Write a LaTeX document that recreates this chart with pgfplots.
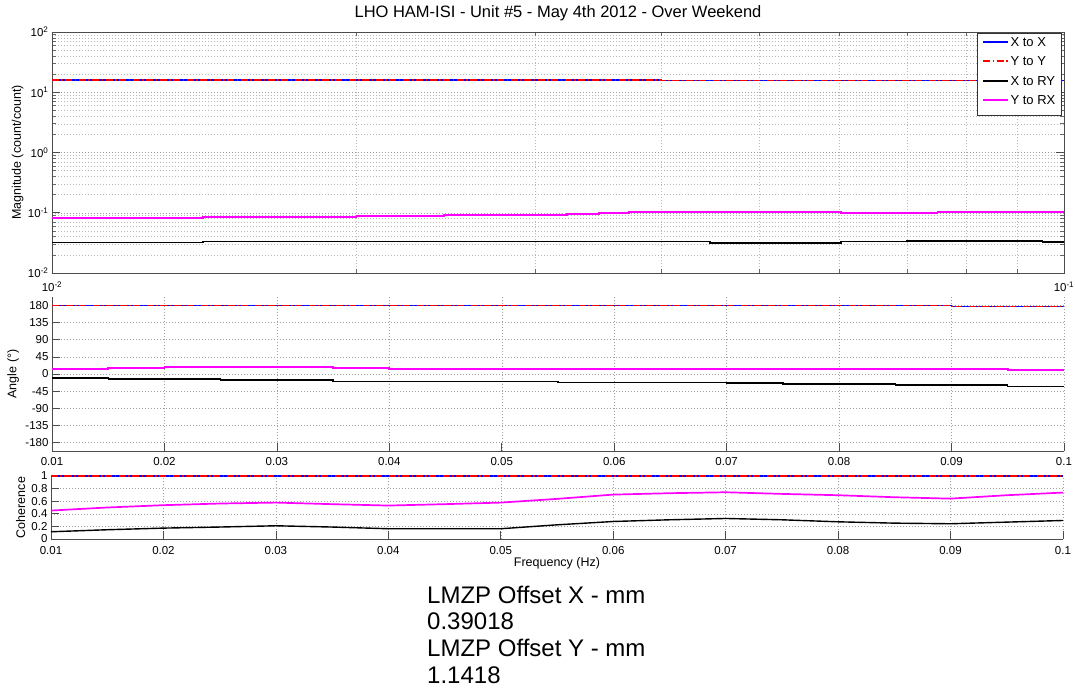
\documentclass[border=0pt]{standalone}
\usepackage{fontspec}
\setmainfont{Liberation Sans}
\usepackage{pgfplots}
\usepackage{pgfplotstable}
\pgfplotsset{compat=1.18}

\definecolor{mblue}{RGB}{0,0,255}
\definecolor{mred}{RGB}{255,0,0}
\definecolor{mmag}{RGB}{255,0,255}

% ---------- data ----------
% magnitude (log f)
\pgfplotstableread{
f v
0.01 16.0
0.04 15.7
0.1 15.7
}\magXX
\pgfplotstableread{
f v
0.01 16.0
0.04 15.7
0.1 15.7
}\magYY
\pgfplotstableread{
f v
0.01 0.0323
0.0141 0.0331
0.0447 0.0315
0.0602 0.0331
0.0700 0.0340
0.0952 0.0327
0.1 0.0327
}\magXRY
\pgfplotstableread{
f v
0.01 0.0820
0.0141 0.0850
0.02 0.0880
0.0244 0.0906
0.030 0.0929
0.0323 0.0953
0.0347 0.0979
0.0372 0.1017
0.040 0.1040
0.0546 0.1017
0.0602 0.0995
0.075 0.1017
0.0952 0.1040
0.1 0.1040
}\magYRX
% phase
\pgfplotstableread{
f v
0.01 180
0.09 176.5
0.1 176.5
}\phXX
\pgfplotstableread{
f v
0.01 180
0.09 176.5
0.1 176.5
}\phYY
\pgfplotstableread{
f v
0.01 -10.8
0.015 -12.6
0.025 -16.0
0.035 -19.6
0.055 -22.0
0.070 -23.3
0.075 -25.7
0.085 -29.3
0.095 -32.8
0.1 -32.8
}\phXRY
\pgfplotstableread{
f v
0.01 13.7
0.015 16.3
0.02 18.0
0.035 15.5
0.04 13.7
0.045 12.5
0.065 12.9
0.095 11.0
0.1 11.0
}\phYRX
% coherence
\pgfplotstableread{
f v
0.01 1
0.1 1
}\coXX
\pgfplotstableread{
f v
0.01 1
0.1 1
}\coYY
\pgfplotstableread{
f v
0.01 0.115
0.015 0.147
0.02 0.173
0.025 0.190
0.03 0.210
0.035 0.190
0.04 0.163
0.045 0.163
0.05 0.163
0.055 0.225
0.06 0.278
0.065 0.305
0.07 0.326
0.075 0.305
0.08 0.273
0.085 0.252
0.09 0.242
0.095 0.268
0.1 0.294
}\coXRY
\pgfplotstableread{
f v
0.01 0.452
0.015 0.500
0.02 0.537
0.025 0.563
0.03 0.578
0.035 0.553
0.04 0.531
0.045 0.553
0.05 0.578
0.055 0.637
0.06 0.705
0.065 0.727
0.07 0.742
0.075 0.716
0.08 0.695
0.085 0.663
0.09 0.641
0.095 0.695
0.1 0.737
}\coYRX

\pgfplotsset{
  mlab/.style={
    scale only axis,
    width=1012pt,
    tick align=inside,
    grid style={dash pattern=on 1pt off 2pt, gray!75, line width=0.5pt},
    minor grid style={dash pattern=on 1pt off 2pt, gray!55, line width=0.5pt},
    tick label style={font=\fontsize{11.5}{12}\selectfont},
    label style={font=\fontsize{12.5}{13}\selectfont},
    axis line style={black!70, line width=0.8pt},
    major tick style={black!70, line width=0.7pt},
    minor tick style={black!60, line width=0.6pt},
    major tick length=8pt,
    minor tick length=4pt,
    /pgf/number format/assume math mode=true,
  },
}
\tikzset{
  sXX/.style={draw=mblue, line width=1.4pt},
  sYY/.style={draw=mred, line width=1.4pt, dash pattern=on 7pt off 2.5pt on 1.5pt off 2.5pt},
  sXRY/.style={draw=black, line width=1.4pt},
  sYRX/.style={draw=mmag, line width=1.7pt},
  legtxt/.style={anchor=west, inner sep=0pt, font=\fontsize{13}{14}\selectfont, text=black},
}

\begin{document}
\begin{tikzpicture}
\path[use as bounding box, fill=white] (0,0) rectangle (1075pt,-688pt);

\node[font=\fontsize{16.5}{18}\selectfont] at (558pt,-13pt) {LHO HAM-ISI - Unit \#5 - May 4th 2012 - Over Weekend};

% ---------------- magnitude ----------------
\begin{axis}[mlab,
  at={(52pt,-273pt)}, anchor=south west, height=241pt,
  xmode=log, ymode=log,
  xmin=0.01, xmax=0.1, ymin=0.01, ymax=100,
  xtick={0.01,0.1},
  xticklabels={10\textsuperscript{-2},10\textsuperscript{-1}},
  xticklabel style={yshift=-5pt},
  minor xtick={0.02,0.03,0.04,0.05,0.06,0.07,0.08,0.09},
  ytick={0.01,0.1,1,10,100},
  yticklabels={10\textsuperscript{-2},10\textsuperscript{-1},10\textsuperscript{0},10\textsuperscript{1},10\textsuperscript{2}},
  minor ytick={0.02,0.03,0.04,0.05,0.06,0.07,0.08,0.09,0.2,0.3,0.4,0.5,0.6,0.7,0.8,0.9,2,3,4,5,6,7,8,9,20,30,40,50,60,70,80,90},
  grid=both,
  ylabel={Magnitude (count/count)},
  ylabel style={at={(axis description cs:-0.034,0.5)}, anchor=center},
]
\addplot[sXX, const plot] table[x=f,y=v] {\magXX};
\addplot[sYY, const plot] table[x=f,y=v] {\magYY};
\addplot[sXRY, const plot] table[x=f,y=v] {\magXRY};
\addplot[sYRX, const plot] table[x=f,y=v] {\magYRX};
% legend
\draw[black!80, fill=white, line width=0.6pt] (rel axis cs:0.914,0.996) rectangle (rel axis cs:0.997,0.656);
\draw[sXX] (rel axis cs:0.920,0.959) -- (rel axis cs:0.945,0.959);
\node[legtxt] at (rel axis cs:0.947,0.959) {X to X};
\draw[sYY] (rel axis cs:0.920,0.880) -- (rel axis cs:0.945,0.880);
\node[legtxt] at (rel axis cs:0.947,0.880) {Y to Y};
\draw[sXRY] (rel axis cs:0.920,0.797) -- (rel axis cs:0.945,0.797);
\node[legtxt] at (rel axis cs:0.947,0.797) {X to RY};
\draw[sYRX] (rel axis cs:0.920,0.718) -- (rel axis cs:0.945,0.718);
\node[legtxt] at (rel axis cs:0.947,0.718) {Y to RX};
\end{axis}

% ---------------- phase ----------------
\begin{axis}[mlab,
  at={(52pt,-451pt)}, anchor=south west, height=154pt,
  axis x line*=bottom, axis y line*=left,
  xmin=0.01, xmax=0.1, ymin=-202, ymax=202,
  xtick={0.01,0.02,0.03,0.04,0.05,0.06,0.07,0.08,0.09,0.1},
  xticklabels={0.01,0.02,0.03,0.04,0.05,0.06,0.07,0.08,0.09,0.1},
  xticklabel style={yshift=-3pt},
  ytick={-180,-135,-90,-45,0,45,90,135,180},
  yticklabels={-180,-135,-90,-45,0,45,90,135,180},
  grid=major,
  ylabel={Angle (°)},
  ylabel style={at={(axis description cs:-0.0385,0.5)}, anchor=center},
]
\addplot[sXX, const plot] table[x=f,y=v] {\phXX};
\addplot[sYY, const plot] table[x=f,y=v] {\phYY};
\addplot[sXRY, const plot] table[x=f,y=v] {\phXRY};
\addplot[sYRX, const plot] table[x=f,y=v] {\phYRX};
\end{axis}

% ---------------- coherence ----------------
\begin{axis}[mlab,
  at={(51pt,-539pt)}, anchor=south west, height=63pt,
  axis x line*=bottom, axis y line*=left,
  clip=false,
  xmin=0.01, xmax=0.1, ymin=0, ymax=1,
  xtick={0.01,0.02,0.03,0.04,0.05,0.06,0.07,0.08,0.09,0.1},
  xticklabels={0.01,0.02,0.03,0.04,0.05,0.06,0.07,0.08,0.09,0.1},
  xticklabel style={yshift=-4pt},
  ytick={0,0.2,0.4,0.6,0.8,1},
  yticklabels={0,0.2,0.4,0.6,0.8,1},
  grid=major,
  ylabel={Coherence},
  ylabel style={at={(axis description cs:-0.030,0.5)}, anchor=center},
  xlabel={Frequency (Hz)},
  xlabel style={at={(axis description cs:0.5,-0.38)}, anchor=center},
]
\addplot[sXX] table[x=f,y=v] {\coXX};
\addplot[sYY] table[x=f,y=v] {\coYY};
\addplot[sXRY] table[x=f,y=v] {\coXRY};
\addplot[sYRX] table[x=f,y=v] {\coYRX};
\end{axis}

\node[anchor=base west, font=\fontsize{24}{26}\selectfont, inner sep=0pt] at (427pt,-603.3pt) {LMZP Offset X - mm};
\node[anchor=base west, font=\fontsize{24}{26}\selectfont, inner sep=0pt] at (427pt,-629.9pt) {0.39018};
\node[anchor=base west, font=\fontsize{24}{26}\selectfont, inner sep=0pt] at (427pt,-656.5pt) {LMZP Offset Y - mm};
\node[anchor=base west, font=\fontsize{24}{26}\selectfont, inner sep=0pt] at (427pt,-683.1pt) {1.1418};
\end{tikzpicture}
\end{document}
